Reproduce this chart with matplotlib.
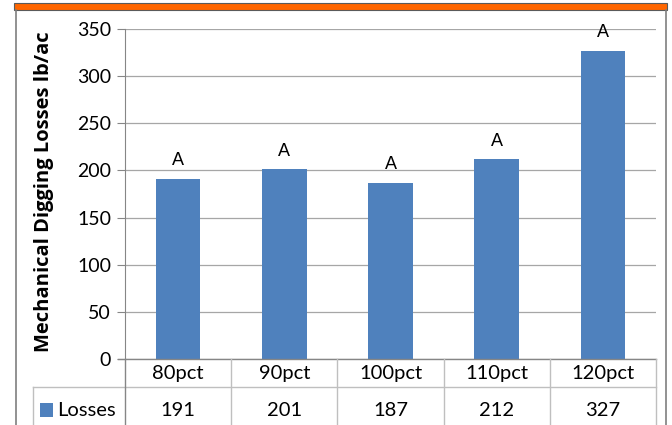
import matplotlib.pyplot as plt
from matplotlib.lines import Line2D
from matplotlib.patches import Rectangle

categories = ['80pct', '90pct', '100pct', '110pct', '120pct']
losses = [191, 201, 187, 212, 327]
letters = ['A', 'A', 'A', 'A', 'A']
series_name = 'Losses'

W, H = 672, 425
bar_color = '#4F81BD'
grid_color = '#A6A6A6'
line_color = '#868686'
tfont = 'Lato'

fig = plt.figure(figsize=(W / 100, H / 100), dpi=100)

def fx(px):
    return px / W

def fy(py):
    return 1 - py / H

# orange header strip and outer frame
fig.add_artist(Rectangle((fx(14), fy(9.5)), fx(667) - fx(14), fy(3) - fy(9.5),
                         facecolor='#FF6600', edgecolor='#5a5a5a', lw=0.8,
                         transform=fig.transFigure))
fig.add_artist(Line2D([fx(16), fx(16)], [fy(9.5), 0], color='#7f7f7f', lw=1.2,
                      transform=fig.transFigure))
fig.add_artist(Line2D([fx(666), fx(666)], [fy(9.5), 0], color='#7f7f7f', lw=1.2,
                      transform=fig.transFigure))

x0, x1 = 125, 656
y_top, y_zero = 29, 359
ax = fig.add_axes([fx(x0), fy(y_zero), fx(x1) - fx(x0), fy(y_top) - fy(y_zero)])

pos = [i + 0.5 for i in range(len(categories))]
ax.bar(pos, losses, width=0.42, color=bar_color, zorder=3)
for p, v, t in zip(pos, losses, letters):
    ax.text(p, v + 10, t, ha='center', va='bottom', fontsize=13,
            family='Liberation Sans')

ax.set_xlim(0, len(categories))
ax.set_ylim(0, 350)
ax.set_yticks(range(0, 351, 50))
ax.set_xticks([])
ax.yaxis.grid(True, color=grid_color, lw=0.9, zorder=0)
for s in ['top', 'right', 'bottom']:
    ax.spines[s].set_visible(False)
ax.spines['left'].set_color(line_color)
ax.tick_params(axis='y', length=6, color=line_color, labelsize=14, pad=4)
for lab in ax.get_yticklabels():
    lab.set_family(tfont)
fig.text(fx(44), fy(192), 'Mechanical Digging Losses lb/ac', rotation=90,
         ha='center', va='center', fontsize=14.5, fontweight='bold', family='Open Sans')

# data table under the axis
col_w = (x1 - x0) / len(categories)
row1 = 387
tbl = '#BFBFBF'
fig.add_artist(Line2D([fx(118), fx(x1)], [fy(y_zero), fy(y_zero)], color=line_color,
                      lw=1.0, transform=fig.transFigure))
fig.add_artist(Line2D([fx(33), fx(x1)], [fy(row1), fy(row1)], color=tbl,
                      lw=1.0, transform=fig.transFigure))
fig.add_artist(Line2D([fx(33), fx(33)], [fy(row1), 0], color=tbl,
                      lw=1.0, transform=fig.transFigure))
for k in range(len(categories) + 1):
    xx = x0 + k * col_w
    fig.add_artist(Line2D([fx(xx), fx(xx)], [fy(y_zero), 0],
                          color=line_color if k == 0 else tbl, lw=1.0,
                          transform=fig.transFigure))
for k, (c, v) in enumerate(zip(categories, losses)):
    xc = x0 + (k + 0.5) * col_w
    fig.text(fx(xc), fy(373), c, ha='center', va='center', fontsize=14.5, family=tfont)
    fig.text(fx(xc), fy(410), str(v), ha='center', va='center', fontsize=14.5,
             family=tfont)
fig.add_artist(Rectangle((fx(40), fy(417)), fx(53) - fx(40), fy(403) - fy(417),
                         facecolor=bar_color, edgecolor='none',
                         transform=fig.transFigure))
fig.text(fx(57), fy(410), series_name, ha='left', va='center', fontsize=14.5,
         family=tfont)

fig.savefig('out.png', dpi=100)
